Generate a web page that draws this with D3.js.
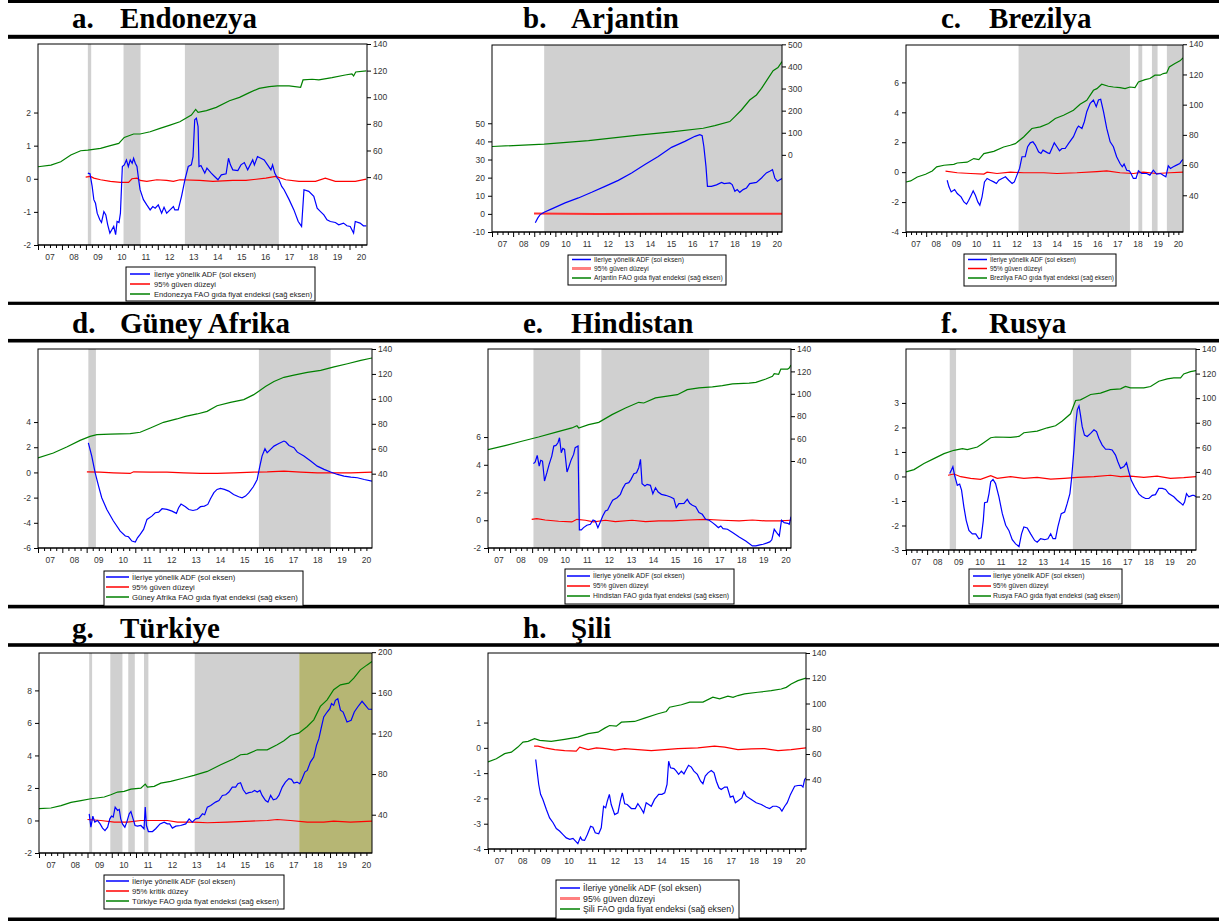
<!DOCTYPE html>
<html>
<head>
<meta charset="utf-8">
<script src="https://cdn.jsdelivr.net/npm/d3@7"></script>
<style>
  body { margin: 0; background: #fff; }
  svg { display: block; }
</style>
</head>
<body>
<div id="chart"></div>
<script>
// ---- data (decimal year, value) ----
const yearLabels = ["07","08","09","10","11","12","13","14","15","16","17","18","19","20"];
const firstYear = 2007;
const lastDate = 2020.73;

// a. Endonezya
const idnShade = [[2009.08,2009.22],[2010.57,2011.28],[2013.13,2017.05]];
const idnAdf = [[2009.08,0.17],[2009.17,0.15],[2009.26,-0.23],[2009.33,-0.63],[2009.40,-0.74],[2009.47,-1.04],[2009.58,-1.24],[2009.65,-1.32],[2009.75,-0.99],[2009.83,-1.09],[2009.91,-1.39],[2010.0,-1.64],[2010.08,-1.54],[2010.16,-1.44],[2010.24,-1.69],[2010.30,-1.29],[2010.38,-1.32],[2010.44,-1.04],[2010.52,0.37],[2010.60,0.42],[2010.69,0.57],[2010.77,0.37],[2010.85,0.57],[2010.93,0.47],[2010.99,0.62],[2011.06,0.47],[2011.13,0.37],[2011.20,-0.03],[2011.26,-0.33],[2011.40,-0.63],[2011.54,-0.79],[2011.68,-0.94],[2011.79,-0.84],[2011.89,-0.89],[2012.02,-0.79],[2012.16,-1.04],[2012.26,-0.86],[2012.37,-1.04],[2012.51,-0.94],[2012.65,-0.84],[2012.71,-0.94],[2012.85,-0.94],[2012.99,-0.53],[2013.13,-0.03],[2013.27,0.37],[2013.40,0.42],[2013.47,0.67],[2013.54,1.78],[2013.61,1.83],[2013.68,1.58],[2013.72,0.37],[2013.80,0.40],[2013.96,0.17],[2014.05,0.32],[2014.23,0.17],[2014.37,0.07],[2014.51,-0.03],[2014.65,0.12],[2014.85,0.15],[2014.95,0.62],[2015.03,0.42],[2015.13,0.27],[2015.34,0.25],[2015.47,0.42],[2015.61,0.49],[2015.75,0.27],[2015.96,0.57],[2016.03,0.42],[2016.16,0.67],[2016.30,0.62],[2016.44,0.57],[2016.58,0.42],[2016.72,0.27],[2016.79,0.42],[2016.88,0.17],[2016.99,0.02],[2017.06,-0.03],[2017.17,-0.23],[2017.27,-0.33],[2017.48,-0.63],[2017.68,-0.94],[2017.86,-1.29],[2018.00,-1.44],[2018.10,-0.33],[2018.30,-0.38],[2018.51,-0.53],[2018.65,-0.89],[2018.79,-0.99],[2018.93,-1.09],[2019.06,-1.24],[2019.20,-1.29],[2019.41,-1.32],[2019.55,-1.39],[2019.75,-1.34],[2019.89,-1.42],[2020.03,-1.44],[2020.17,-1.64],[2020.24,-1.29],[2020.44,-1.34],[2020.58,-1.42],[2020.70,-1.42]];
const idnCrit = [[2008.99,0.05],[2009.19,0.07],[2009.33,0.02],[2009.61,-0.03],[2010.02,-0.08],[2010.44,-0.11],[2010.78,-0.11],[2010.92,0.0],[2011.13,0.02],[2011.26,-0.05],[2011.54,-0.08],[2011.96,-0.03],[2012.37,-0.05],[2012.65,-0.08],[2012.92,-0.03],[2013.75,-0.05],[2014.30,-0.08],[2015.13,-0.05],[2015.68,-0.05],[2016.51,0.02],[2016.92,0.07],[2017.34,-0.03],[2017.89,-0.08],[2018.58,-0.08],[2018.99,0.02],[2019.41,-0.08],[2019.82,-0.08],[2020.24,-0.08],[2020.70,-0.01]];
const idnFao = [[2007.0,47.8],[2007.54,49],[2007.95,51.5],[2008.37,56.6],[2008.78,59.8],[2009.08,60.3],[2009.61,61.6],[2010.02,63.6],[2010.37,65.3],[2010.60,69.8],[2010.99,72.4],[2011.26,72.4],[2011.68,74.1],[2012.09,76.6],[2012.51,79.1],[2012.92,81.6],[2013.40,86.6],[2013.58,90.9],[2013.68,88.7],[2014.03,89.9],[2014.44,92.4],[2014.99,97.4],[2015.41,99.9],[2015.82,103.5],[2016.23,106.7],[2016.65,108],[2016.99,108.5],[2017.48,108.5],[2017.96,107.5],[2018.06,113],[2018.44,113.5],[2018.72,113],[2019.27,114.7],[2019.82,116.7],[2020.10,117.5],[2020.17,116],[2020.26,119],[2020.70,119.8]];

// b. Arjantin
const argShade = [[2009.47,2020.73]];
const argAdf = [[2009.05,-4.95],[2009.17,-2.2],[2009.28,-0.4],[2009.47,0.9],[2009.83,2.75],[2010.46,6.05],[2011.09,8.8],[2011.72,11.9],[2012.35,15.2],[2012.98,18.5],[2013.61,22.6],[2014.24,27.2],[2014.87,31.7],[2015.50,36.7],[2016.13,40.0],[2016.61,42.8],[2016.84,43.7],[2016.95,43.1],[2017.03,37.2],[2017.13,26.2],[2017.20,15.2],[2017.39,15.2],[2017.63,16.0],[2017.87,17.4],[2017.99,16.7],[2018.26,17.1],[2018.37,16.2],[2018.50,12.5],[2018.61,13.4],[2018.73,11.9],[2018.89,13.4],[2019.05,14.3],[2019.20,16.7],[2019.52,17.4],[2019.76,19.8],[2019.99,22.6],[2020.15,23.5],[2020.28,24.4],[2020.39,19.8],[2020.51,18.0],[2020.73,19.5]];
const argCrit = [[2008.99,0.2],[2012.0,0.0],[2016.0,0.1],[2020.73,0.1]];
const argFao = [[2007.0,37.7],[2009.47,48.2],[2011.57,64.8],[2013.93,88.9],[2015.50,104],[2017.0,120.5],[2017.55,132.5],[2018.26,150.6],[2018.50,173],[2018.81,203],[2019.20,248],[2019.52,271],[2019.76,301],[2020.07,346],[2020.31,381],[2020.54,395],[2020.73,422]];

// c. Brezilya
const braShade = [[2012.58,2018.10],[2018.52,2018.71],[2019.19,2019.47],[2019.93,2020.73]];
const braAdf = [[2009.04,-0.54],[2009.13,-0.98],[2009.24,-1.32],[2009.41,-1.16],[2009.54,-1.43],[2009.73,-1.65],[2009.87,-1.99],[2010.0,-2.14],[2010.11,-1.88],[2010.23,-1.54],[2010.33,-1.25],[2010.44,-1.54],[2010.56,-1.99],[2010.66,-2.21],[2010.77,-1.65],[2010.89,-0.65],[2011.02,-0.42],[2011.18,-0.54],[2011.35,-0.65],[2011.48,-0.76],[2011.60,-0.54],[2011.76,-0.42],[2011.93,-0.31],[2012.09,-0.54],[2012.26,-0.76],[2012.37,-0.65],[2012.50,-0.2],[2012.63,0.25],[2012.75,1.03],[2012.91,1.03],[2013.03,1.7],[2013.16,1.96],[2013.29,2.03],[2013.41,1.81],[2013.57,1.36],[2013.69,1.25],[2013.79,1.47],[2014.02,1.29],[2014.12,1.25],[2014.23,1.58],[2014.35,1.96],[2014.48,1.70],[2014.61,1.43],[2014.73,1.58],[2014.89,1.58],[2015.06,1.92],[2015.30,2.37],[2015.47,2.92],[2015.55,3.08],[2015.72,2.92],[2015.84,3.37],[2015.96,4.04],[2016.13,4.60],[2016.29,4.82],[2016.43,4.38],[2016.54,4.82],[2016.65,4.87],[2016.79,4.04],[2016.95,2.92],[2017.12,2.03],[2017.28,1.70],[2017.44,1.03],[2017.61,0.58],[2017.72,0.36],[2017.81,0.54],[2017.94,0.13],[2018.07,0.09],[2018.15,-0.09],[2018.27,-0.42],[2018.40,-0.42],[2018.52,0.09],[2018.68,-0.09],[2018.93,-0.09],[2019.09,-0.2],[2019.26,0.13],[2019.42,-0.13],[2019.62,-0.09],[2019.75,-0.2],[2019.88,-0.31],[2020.0,0.42],[2020.11,0.25],[2020.25,0.36],[2020.41,0.47],[2020.57,0.58],[2020.66,0.76],[2020.73,0.85]];
const braCrit = [[2008.96,0.07],[2009.54,-0.04],[2010.20,-0.09],[2010.86,-0.13],[2011.02,0.0],[2011.51,-0.09],[2012.17,0.0],[2012.83,-0.04],[2013.82,-0.04],[2014.48,-0.09],[2015.47,-0.04],[2016.46,0.04],[2016.95,0.09],[2017.61,-0.04],[2018.27,-0.09],[2018.76,0.0],[2019.42,-0.09],[2020.08,-0.04],[2020.73,0.0]];
const braFao = [[2007.0,48.8],[2007.23,49.5],[2007.56,52.1],[2007.97,53.9],[2008.30,56.1],[2008.52,58.8],[2008.88,59.9],[2009.37,60.5],[2009.54,61.4],[2010.03,61.9],[2010.36,64.3],[2010.61,63.6],[2010.86,67.6],[2011.35,69.1],[2011.84,72.0],[2012.17,73.1],[2012.42,74.2],[2012.83,78.6],[2013.24,84.2],[2013.66,85.3],[2014.07,87.5],[2014.40,90.8],[2014.81,93.0],[2015.30,96.3],[2015.63,100.3],[2015.96,102.9],[2016.29,109.5],[2016.46,110.6],[2016.70,113.5],[2017.03,112.2],[2017.28,111.7],[2017.61,111.3],[2017.86,110.6],[2018.10,111.7],[2018.35,111.3],[2018.52,115],[2018.85,116.6],[2019.09,117.3],[2019.34,119.5],[2019.59,119.5],[2019.75,120.6],[2019.92,121],[2020.05,125],[2020.33,127.2],[2020.58,129],[2020.73,131]];

// d. Güney Afrika
const zafShade = [[2009.07,2009.38],[2016.08,2019.03]];
const zafAdf = [[2009.07,2.35],[2009.21,1.30],[2009.35,-0.03],[2009.49,-1.08],[2009.62,-2.01],[2009.83,-2.94],[2010.10,-3.86],[2010.38,-4.66],[2010.59,-5.05],[2010.72,-5.11],[2010.86,-5.45],[2011.0,-5.53],[2011.09,-5.19],[2011.20,-4.92],[2011.34,-4.52],[2011.48,-3.73],[2011.68,-3.47],[2011.82,-3.20],[2011.96,-3.15],[2012.10,-2.88],[2012.30,-2.94],[2012.51,-3.07],[2012.69,-3.25],[2012.78,-2.80],[2012.88,-2.51],[2013.06,-2.72],[2013.20,-2.94],[2013.37,-3.02],[2013.54,-2.94],[2013.68,-2.72],[2013.84,-2.67],[2013.98,-2.54],[2014.09,-2.09],[2014.23,-1.61],[2014.36,-1.35],[2014.50,-1.27],[2014.66,-1.35],[2014.84,-1.48],[2015.04,-1.75],[2015.25,-1.93],[2015.39,-2.01],[2015.53,-1.88],[2015.67,-1.61],[2015.85,-1.14],[2016.01,-0.56],[2016.12,0.50],[2016.21,1.30],[2016.33,1.88],[2016.42,1.56],[2016.56,1.83],[2016.70,2.09],[2016.90,2.30],[2017.11,2.49],[2017.19,2.41],[2017.32,2.14],[2017.52,1.96],[2017.66,1.61],[2017.93,1.30],[2018.21,0.90],[2018.48,0.50],[2018.76,0.24],[2019.03,0.03],[2019.31,-0.16],[2019.58,-0.29],[2019.86,-0.37],[2020.13,-0.42],[2020.41,-0.56],[2020.73,-0.69]];
const zafCrit = [[2009.01,0.05],[2009.55,0.03],[2010.10,-0.03],[2010.79,-0.08],[2010.93,0.05],[2011.62,0.03],[2012.30,0.03],[2012.99,-0.03],[2013.68,-0.08],[2014.36,-0.08],[2015.05,-0.03],[2015.87,0.03],[2016.42,0.05],[2017.11,0.11],[2017.80,0.03],[2018.48,-0.03],[2019.17,-0.03],[2019.86,-0.03],[2020.73,0.03]];
const zafFao = [[2007.0,52.6],[2007.63,56.6],[2008.18,61.4],[2008.73,66.7],[2009.14,69.9],[2009.42,71.3],[2009.97,71.8],[2010.79,72.1],[2011.20,73.2],[2011.62,76.6],[2012.16,81.2],[2012.71,83.9],[2013.06,86],[2013.54,87.9],[2013.95,90],[2014.36,94.5],[2014.91,97.2],[2015.46,99.4],[2015.87,103.4],[2016.12,106.8],[2016.35,110],[2016.70,114],[2017.11,117.3],[2017.52,119.1],[2018.07,121.3],[2018.62,122.9],[2019.17,125.6],[2019.72,128.2],[2020.27,130.9],[2020.73,132.8]];

// e. Hindistan
const indShade = [[2009.06,2011.18],[2012.14,2017.02],[2020.68,2020.73]];
const indAdf = [[2009.06,4.08],[2009.14,4.2],[2009.23,4.68],[2009.32,3.91],[2009.39,4.32],[2009.47,4.27],[2009.56,2.83],[2009.67,3.43],[2009.77,4.03],[2009.89,4.63],[2009.98,5.35],[2010.08,5.40],[2010.17,5.59],[2010.24,5.95],[2010.32,4.87],[2010.39,5.18],[2010.47,5.11],[2010.58,3.48],[2010.65,3.79],[2010.76,4.32],[2010.88,4.75],[2010.95,5.23],[2011.08,5.35],[2011.14,-0.70],[2011.23,-0.70],[2011.33,-0.53],[2011.48,-0.36],[2011.64,-0.29],[2011.76,0.02],[2011.86,-0.05],[2011.98,-0.53],[2012.09,-0.12],[2012.20,0.31],[2012.32,0.67],[2012.42,0.74],[2012.55,1.15],[2012.65,1.44],[2012.85,1.63],[2013.0,1.87],[2013.11,2.30],[2013.23,2.64],[2013.38,2.71],[2013.48,2.95],[2013.61,3.36],[2013.73,3.43],[2013.83,3.79],[2013.91,4.39],[2013.98,2.64],[2014.11,2.47],[2014.21,2.59],[2014.36,2.52],[2014.47,1.92],[2014.59,2.35],[2014.71,2.04],[2014.86,1.87],[2015.05,1.80],[2015.27,1.68],[2015.42,1.56],[2015.53,0.91],[2015.65,1.20],[2015.88,1.22],[2016.03,1.51],[2016.14,1.22],[2016.26,1.08],[2016.41,0.98],[2016.56,0.55],[2016.71,0.43],[2016.86,0.07],[2017.02,0.0],[2017.17,-0.17],[2017.32,-0.36],[2017.44,-0.53],[2017.55,-0.41],[2017.65,-0.60],[2017.85,-0.65],[2018.08,-0.89],[2018.38,-1.20],[2018.68,-1.49],[2018.98,-1.85],[2019.14,-1.85],[2019.32,-1.77],[2019.47,-1.73],[2019.62,-1.65],[2019.77,-1.56],[2019.86,-1.41],[2019.97,-0.65],[2020.08,-0.89],[2020.20,-1.13],[2020.30,0.0],[2020.42,-0.17],[2020.58,-0.22],[2020.65,-0.29],[2020.73,0.26]];
const indCrit = [[2008.98,0.07],[2009.21,0.12],[2009.59,0.02],[2010.20,-0.07],[2010.80,-0.12],[2011.03,0.07],[2011.41,0.0],[2011.79,-0.12],[2012.32,0.0],[2012.77,-0.10],[2013.53,0.0],[2014.14,-0.10],[2014.74,-0.05],[2015.35,-0.05],[2016.11,0.02],[2016.86,0.07],[2017.62,0.0],[2018.38,-0.05],[2018.98,0.02],[2019.59,-0.05],[2020.20,-0.05],[2020.73,0.0]];
const indFao = [[2007.0,50.1],[2007.77,53.7],[2008.53,57.6],[2009.29,61.4],[2010.05,65.6],[2010.80,69.5],[2011.03,71.5],[2011.11,69.5],[2011.56,72.4],[2012.02,74.5],[2012.62,81.4],[2013.23,87.3],[2013.83,92.4],[2014.06,91.8],[2014.59,96.3],[2015.35,98.6],[2015.58,99.2],[2016.03,103.7],[2016.56,105.2],[2017.17,106.1],[2017.62,107.3],[2018.08,108.8],[2018.83,109.6],[2019.14,110.2],[2019.59,113.2],[2019.89,115.6],[2019.97,118],[2020.17,117.4],[2020.27,122.1],[2020.58,122.1],[2020.65,123],[2020.73,125.7]];

// f. Rusya
const rusShade = [[2009.07,2009.37],[2014.90,2017.66]];
const rusAdf = [[2009.07,0.12],[2009.15,0.26],[2009.22,0.40],[2009.30,0.05],[2009.43,-0.36],[2009.54,-0.31],[2009.63,-0.56],[2009.74,-1.24],[2009.85,-1.79],[2009.98,-2.20],[2010.14,-2.34],[2010.30,-2.34],[2010.45,-2.54],[2010.56,-2.50],[2010.66,-1.79],[2010.72,-1.07],[2010.85,-1.04],[2010.93,-0.70],[2011.01,-0.22],[2011.12,-0.12],[2011.24,-0.29],[2011.40,-0.83],[2011.56,-1.52],[2011.72,-1.99],[2011.87,-2.20],[2012.03,-2.58],[2012.19,-2.75],[2012.35,-2.86],[2012.47,-2.34],[2012.58,-2.06],[2012.74,-2.10],[2012.90,-2.34],[2013.09,-2.61],[2013.21,-2.68],[2013.37,-2.54],[2013.56,-2.58],[2013.72,-2.54],[2013.85,-2.34],[2013.96,-2.54],[2014.08,-2.54],[2014.19,-2.06],[2014.35,-1.52],[2014.51,-1.45],[2014.63,-1.11],[2014.76,-0.70],[2014.84,-0.08],[2014.95,1.08],[2015.03,2.10],[2015.11,2.72],[2015.19,2.88],[2015.26,2.51],[2015.34,2.04],[2015.45,1.69],[2015.58,1.63],[2015.74,1.76],[2015.90,1.90],[2016.02,1.83],[2016.13,1.56],[2016.29,1.28],[2016.45,1.11],[2016.61,1.11],[2016.76,1.08],[2016.92,0.87],[2017.03,0.60],[2017.16,0.33],[2017.32,0.40],[2017.44,0.56],[2017.55,0.19],[2017.66,-0.15],[2017.82,-0.42],[2018.03,-0.72],[2018.18,-0.83],[2018.34,-0.90],[2018.50,-0.90],[2018.66,-0.77],[2018.81,-0.74],[2018.97,-0.49],[2019.13,-0.49],[2019.29,-0.53],[2019.44,-0.70],[2019.68,-0.83],[2019.84,-0.97],[2020.0,-1.08],[2020.11,-1.17],[2020.19,-1.04],[2020.28,-0.70],[2020.39,-0.83],[2020.55,-0.77],[2020.63,-0.77],[2020.73,-0.83]];
const rusCrit = [[2008.99,0.05],[2009.27,0.10],[2009.59,-0.01],[2010.06,-0.08],[2010.53,-0.12],[2011.01,0.03],[2011.32,-0.08],[2011.95,-0.01],[2012.58,-0.08],[2013.21,-0.04],[2013.85,-0.11],[2014.48,-0.08],[2015.11,-0.04],[2015.90,-0.01],[2016.68,0.05],[2017.16,-0.01],[2017.63,0.01],[2018.26,-0.04],[2018.89,0.01],[2019.52,-0.08],[2020.15,-0.05],[2020.73,-0.01]];
const rusFao = [[2007.0,40],[2007.38,41.9],[2007.85,46.8],[2008.32,50.8],[2008.80,54.9],[2009.27,57.6],[2009.67,58.9],[2009.90,58.1],[2010.38,60.3],[2010.61,63],[2011.01,67.8],[2011.24,68.4],[2011.95,68.1],[2012.35,68.9],[2012.58,71.9],[2013.21,73.2],[2013.69,75.9],[2014.08,77.6],[2014.40,81.4],[2014.79,87.3],[2015.03,98.1],[2015.26,98.6],[2015.50,100.8],[2015.74,103.0],[2016.21,104.1],[2016.68,107.0],[2017.16,107.6],[2017.39,109.5],[2017.63,108.4],[2018.26,108.4],[2018.58,109.5],[2018.97,113.8],[2019.37,115.7],[2019.68,116.5],[2020.0,116.5],[2020.15,119.7],[2020.47,121.6],[2020.73,122.4]];

// g. Türkiye
const turShade = [[2009.07,2009.19],[2009.94,2010.44],[2010.68,2010.95],[2011.33,2011.51],[2013.42,2017.73]];
const turBubble = [[2017.73,2020.73]];
const turAdf = [[2009.07,0.41],[2009.14,-0.41],[2009.22,0.27],[2009.30,-0.10],[2009.41,0.0],[2009.52,-0.21],[2009.62,-0.47],[2009.72,-0.62],[2009.83,-0.41],[2009.92,0.10],[2009.99,0.27],[2010.06,0.21],[2010.14,0.82],[2010.24,0.62],[2010.31,0.68],[2010.37,0.10],[2010.44,-0.21],[2010.54,-0.41],[2010.62,-0.10],[2010.72,0.41],[2010.79,0.55],[2010.88,0.10],[2010.96,-0.31],[2011.06,-0.35],[2011.20,-0.31],[2011.33,-0.51],[2011.38,0.82],[2011.43,-0.31],[2011.51,-0.68],[2011.68,-0.68],[2011.81,-0.51],[2011.99,-0.21],[2012.16,-0.10],[2012.29,-0.21],[2012.39,-0.21],[2012.50,-0.47],[2012.64,-0.35],[2012.84,-0.31],[2013.05,-0.21],[2013.19,0.10],[2013.32,-0.10],[2013.46,0.10],[2013.60,0.14],[2013.74,0.41],[2013.83,0.35],[2013.94,0.82],[2014.08,0.92],[2014.28,1.13],[2014.42,1.23],[2014.56,1.54],[2014.70,1.58],[2014.83,1.75],[2014.97,2.05],[2015.11,2.05],[2015.20,2.26],[2015.31,2.32],[2015.42,1.89],[2015.54,1.64],[2015.65,1.71],[2015.79,1.75],[2015.89,1.85],[2016.0,1.75],[2016.11,1.85],[2016.20,1.54],[2016.34,1.23],[2016.44,1.13],[2016.55,1.54],[2016.66,1.27],[2016.79,1.33],[2016.89,1.54],[2017.03,2.05],[2017.16,2.36],[2017.30,2.57],[2017.41,2.53],[2017.51,2.30],[2017.64,2.36],[2017.75,2.26],[2017.85,2.57],[2017.96,2.98],[2018.06,3.08],[2018.19,3.59],[2018.33,3.90],[2018.44,4.62],[2018.54,5.03],[2018.63,5.65],[2018.74,6.37],[2018.88,6.67],[2018.99,6.88],[2019.06,7.19],[2019.15,7.08],[2019.22,7.39],[2019.32,7.49],[2019.43,6.78],[2019.54,6.67],[2019.70,6.06],[2019.87,6.16],[2020.0,6.67],[2020.14,6.98],[2020.32,7.33],[2020.46,7.08],[2020.59,6.84],[2020.73,6.84]];
const turCrit = [[2009.0,0.06],[2009.55,0.0],[2010.10,-0.10],[2010.65,-0.10],[2011.20,0.0],[2011.61,0.0],[2012.29,0.0],[2012.71,-0.10],[2013.39,-0.10],[2013.94,-0.14],[2014.76,-0.10],[2015.72,-0.04],[2016.41,0.0],[2016.82,0.06],[2017.37,0.0],[2018.06,-0.10],[2018.74,-0.10],[2019.15,-0.04],[2019.84,-0.10],[2020.73,-0.04]];
const turFao = [[2007.0,45.9],[2007.49,46.6],[2007.91,48.9],[2008.32,52.1],[2008.73,53.8],[2009.14,55.7],[2009.69,57.4],[2009.96,59.7],[2010.24,62.3],[2010.51,63],[2010.79,65.2],[2011.20,66.2],[2011.38,70.2],[2011.47,67.2],[2011.75,67.9],[2012.02,71.1],[2012.43,72.8],[2012.98,76.1],[2013.39,78.7],[2013.94,82.6],[2014.49,89.2],[2015.04,95.1],[2015.31,99],[2015.59,99.7],[2016.0,103.9],[2016.41,103.9],[2016.82,108.9],[2017.10,112.8],[2017.37,118],[2017.71,120.3],[2018.06,126.9],[2018.33,133.4],[2018.60,146.6],[2018.88,153.1],[2019.15,163],[2019.43,167.9],[2019.77,169.5],[2019.98,174.4],[2020.25,182.6],[2020.53,187.5],[2020.73,190.8]];

// h. Şili
const chlShade = [];
const chlAdf = [[2009.06,-0.46],[2009.12,-0.92],[2009.19,-1.45],[2009.27,-1.84],[2009.37,-2.04],[2009.52,-2.44],[2009.66,-2.77],[2009.81,-2.96],[2009.95,-3.19],[2010.09,-3.29],[2010.24,-3.43],[2010.38,-3.56],[2010.53,-3.62],[2010.67,-3.58],[2010.81,-3.72],[2010.88,-3.79],[2010.99,-3.53],[2011.06,-3.64],[2011.17,-3.66],[2011.29,-3.43],[2011.43,-3.10],[2011.53,-3.14],[2011.63,-3.36],[2011.78,-3.40],[2011.89,-3.16],[2011.99,-2.31],[2012.08,-2.37],[2012.15,-2.11],[2012.24,-1.84],[2012.32,-2.24],[2012.47,-2.64],[2012.61,-2.57],[2012.71,-2.11],[2012.80,-1.78],[2012.90,-2.21],[2013.01,-2.24],[2013.19,-2.40],[2013.36,-2.40],[2013.47,-2.21],[2013.59,-2.37],[2013.72,-2.57],[2013.83,-2.17],[2013.94,-2.24],[2014.05,-2.31],[2014.19,-2.04],[2014.37,-1.84],[2014.51,-1.84],[2014.63,-1.78],[2014.73,-1.45],[2014.80,-0.53],[2014.88,-0.79],[2015.03,-0.82],[2015.13,-0.92],[2015.23,-1.05],[2015.35,-0.92],[2015.46,-1.03],[2015.56,-0.86],[2015.66,-0.69],[2015.78,-0.76],[2015.89,-0.92],[2016.04,-1.05],[2016.18,-1.32],[2016.28,-1.42],[2016.38,-1.12],[2016.50,-0.99],[2016.64,-0.90],[2016.76,-0.99],[2016.86,-1.32],[2016.97,-1.58],[2017.07,-1.65],[2017.22,-1.55],[2017.33,-1.55],[2017.46,-1.95],[2017.58,-1.91],[2017.68,-2.17],[2017.82,-2.08],[2017.96,-1.98],[2018.05,-1.74],[2018.15,-1.91],[2018.37,-2.04],[2018.58,-2.17],[2018.80,-2.24],[2019.01,-2.35],[2019.16,-2.40],[2019.30,-2.31],[2019.45,-2.31],[2019.59,-2.37],[2019.69,-2.50],[2019.81,-2.31],[2019.92,-2.17],[2020.06,-1.84],[2020.24,-1.52],[2020.38,-1.49],[2020.53,-1.48],[2020.60,-1.55],[2020.67,-1.25],[2020.73,-1.19]];
const chlCrit = [[2008.99,0.07],[2009.16,0.07],[2009.45,0.0],[2009.88,-0.07],[2010.31,-0.11],[2010.81,-0.13],[2010.96,0.03],[2011.32,-0.07],[2011.68,0.0],[2012.04,-0.03],[2012.47,-0.09],[2012.90,-0.03],[2013.47,-0.07],[2014.05,-0.11],[2014.63,-0.07],[2015.20,-0.03],[2016.06,0.0],[2016.78,0.07],[2017.22,0.03],[2017.79,-0.07],[2018.37,-0.04],[2018.94,-0.03],[2019.52,-0.11],[2020.09,-0.07],[2020.73,0.0]];
const chlFao = [[2007.0,53.7],[2007.36,56.3],[2007.72,60.3],[2008.01,61.5],[2008.29,65.5],[2008.51,69.4],[2008.73,70],[2009.01,72.1],[2009.23,70.8],[2009.73,70],[2010.31,71.6],[2010.88,73.4],[2011.32,76.1],[2011.75,77.3],[2012.04,80.5],[2012.25,82.6],[2012.54,82.1],[2012.76,85.2],[2013.33,85.8],[2013.76,88.4],[2014.34,91.9],[2014.70,93.7],[2014.84,97.1],[2015.35,99],[2015.71,101.1],[2016.28,101.1],[2016.71,105],[2017.0,103.7],[2017.36,105.8],[2017.58,104.9],[2017.79,106.3],[2018.08,107.6],[2018.65,108.9],[2019.23,110.2],[2019.66,111.5],[2019.88,112.8],[2020.09,115.5],[2020.38,118.1],[2020.73,120.2]];

const adfLabel = "İleriye yönelik ADF (sol eksen)";
const critLabel = "95% güven düzeyi";
const critLabelTr = "95% kritik düzey";

// ---- layout ----
const W = 1219, H = 921;
const colors = { adf: "#0000ff", crit: "#ff0000", fao: "#008000", shade: "#d0d0d0", bubble: "#b6b674", text: "#222" };
const rules = [[1.5, 3], [36.8, 4], [303.3, 3.2], [340.7, 3.6], [606.6, 3.6], [645, 3.6], [919.3, 3.6]];

const panels = [
  { letter: "a.", name: "Endonezya", tx: 72, ty: 28, shade: idnShade, adf: idnAdf, crit: idnCrit, fao: idnFao,
    box: [38, 367, 44, 245], left: [-2, 4.07], right: [-11, 140], lt: [-2,-1,0,1,2], rt: [40,60,80,100,120,140],
    leg: { box: [126, 315, 267, 301], rows: [274, 284, 294], l: [130, 150], t: 154, fs: 7.6 },
    labels: [adfLabel, critLabel, "Endonezya FAO gıda fiyat endeksi (sağ eksen)"] },
  { letter: "b.", name: "Arjantin", tx: 523, ty: 28, shade: argShade, adf: argAdf, crit: argCrit, fao: argFao,
    box: [492, 782, 45, 232], left: [-10, 93.2], right: [-349, 497], lt: [-10,0,10,20,30,40,50], rt: [0,100,200,300,400,500],
    critW: 2, critC: "#ff3030",
    leg: { box: [568, 726, 255, 285], rows: [259.5, 268.5, 278], l: [572, 591], t: 594, fs: 6.7 },
    labels: [adfLabel, critLabel, "Arjantin FAO gıda fiyat endeksi (sağ eksen)"] },
  { letter: "c.", name: "Brezilya", tx: 941, ty: 28, shade: braShade, adf: braAdf, crit: braCrit, fao: braFao,
    box: [906, 1183, 45, 232], left: [-4, 8.5], right: [15.7, 139.5], lt: [-4,-2,0,2,4,6], rt: [40,60,80,100,120,140],
    leg: { box: [964, 1116, 254, 286], rows: [259.5, 268.5, 278], l: [968, 987], t: 990, fs: 6.4 },
    labels: [adfLabel, critLabel, "Brezilya FAO gıda fiyat endeksi (sağ eksen)"] },
  { letter: "d.", name: "Güney Afrika", tx: 72, ty: 333, shade: zafShade, adf: zafAdf, crit: zafCrit, fao: zafFao,
    box: [38, 372, 349, 548], left: [-6, 9.8], right: [-19.6, 140], lt: [-6,-4,-2,0,2,4], rt: [40,60,80,100,120,140],
    leg: { box: [104, 303, 571, 606], rows: [577, 587, 597], l: [106, 129], t: 132, fs: 7.7 },
    labels: [adfLabel, critLabel, "Güney Afrika FAO gıda fiyat endeksi (sağ eksen)"] },
  { letter: "e.", name: "Hindistan", tx: 523, ty: 333, shade: indShade, adf: indAdf, crit: indCrit, fao: indFao,
    box: [488, 791, 349, 548], left: [-2, 12.35], right: [-37.7, 140], lt: [-2,0,2,4,6], rt: [40,60,80,100,120,140],
    leg: { box: [565, 734, 569, 604], rows: [576, 586, 596], l: [567, 590], t: 593, fs: 6.8 },
    labels: [adfLabel, critLabel, "Hindistan FAO gıda fiyat endeksi (sağ eksen)"] },
  { letter: "f.", name: "Rusya", tx: 941, ty: 333, shade: rusShade, adf: rusAdf, crit: rusCrit, fao: rusFao,
    box: [906, 1196, 349, 550], left: [-3, 5.2], right: [-23.5, 140], lt: [-3,-2,-1,0,1,2,3], rt: [20,40,60,80,100,120,140],
    leg: { box: [969, 1122, 569, 604], rows: [576, 586, 596], l: [973, 991], t: 993, fs: 6.8 },
    labels: [adfLabel, critLabel, "Rusya FAO gıda fiyat endeksi (sağ eksen)"] },
  { letter: "g.", name: "Türkiye", tx: 72, ty: 638, shade: turShade, bubble: turBubble, adf: turAdf, crit: turCrit, fao: turFao,
    box: [39, 372, 653, 853], left: [-2, 10.3], right: [2.3, 199.2], lt: [-2,0,2,4,6,8], rt: [40,80,120,160,200],
    leg: { box: [104, 284, 875, 909], rows: [881, 891, 901], l: [106, 129], t: 132, fs: 7.7 },
    labels: [adfLabel, critLabelTr, "Türkiye FAO gıda fiyat endeksi (sağ eksen)"] },
  { letter: "h.", name: "Şili", tx: 523, ty: 638, shade: chlShade, adf: chlAdf, crit: chlCrit, fao: chlFao,
    box: [488, 806, 653, 849], left: [-4, 3.75], right: [-15.2, 140], lt: [-4,-3,-2,-1,0,1], rt: [40,60,80,100,120,140],
    legCritC: "#ff8080", legCritW: 3,
    leg: { box: [556, 739, 880, 919], rows: [888, 898.5, 909], l: [560, 580], t: 583, fs: 8.8 },
    labels: [adfLabel, critLabel, "Şili FAO gıda fiyat endeksi (sağ eksen)"] }
];
panels[1].legCritC = "#ff8080"; panels[1].legCritW = 3;

const svg = d3.select("#chart").append("svg")
  .attr("width", W).attr("height", H).attr("viewBox", [0, 0, W, H])
  .style("font-family", "Arial, 'Liberation Sans', sans-serif");

svg.append("rect").attr("width", W).attr("height", H).attr("fill", "#fff");

svg.selectAll("rect.rule").data(rules).join("rect")
  .attr("class", "rule")
  .attr("x", 8).attr("width", W - 8)
  .attr("y", d => d[0] - d[1] / 2).attr("height", d => d[1])
  .attr("fill", "#000");

panels.forEach((p, i) => drawPanel(p, i));

function drawPanel(p, i) {
  const [x0, x1, y0, y1] = p.box;
  const x = d3.scaleLinear().domain([firstYear, lastDate]).range([x0, x1]);
  const yl = d3.scaleLinear().domain(p.left).range([y1, y0]);
  const yr = d3.scaleLinear().domain(p.right).range([y1, y0]);
  const g = svg.append("g");

  // title
  const title = g.append("text").attr("y", p.ty)
    .style("font-family", "'Liberation Serif', 'Times New Roman', serif")
    .style("font-weight", "bold").style("font-size", "29px").attr("fill", "#000");
  title.append("tspan").attr("x", p.tx).text(p.letter);
  title.append("tspan").attr("x", p.tx + 48).text(p.name);

  const clipId = "clip" + i;
  g.append("clipPath").attr("id", clipId).append("rect")
    .attr("x", x0).attr("y", y0).attr("width", x1 - x0).attr("height", y1 - y0);
  const plot = g.append("g").attr("clip-path", `url(#${clipId})`);

  plot.selectAll("rect.shade").data(p.shade).join("rect")
    .attr("class", "shade")
    .attr("x", d => x(d[0])).attr("width", d => x(d[1]) - x(d[0]))
    .attr("y", y0).attr("height", y1 - y0).attr("fill", colors.shade);
  if (p.bubble) {
    plot.selectAll("rect.bubble").data(p.bubble).join("rect")
      .attr("class", "bubble")
      .attr("x", d => x(d[0])).attr("width", d => x(d[1]) - x(d[0]))
      .attr("y", y0).attr("height", y1 - y0).attr("fill", colors.bubble);
  }

  const lineL = d3.line().x(d => x(d[0])).y(d => yl(d[1]));
  const lineR = d3.line().x(d => x(d[0])).y(d => yr(d[1]));

  plot.append("path").datum(p.fao).attr("d", lineR)
    .attr("fill", "none").attr("stroke", colors.fao).attr("stroke-width", 1.2);
  plot.append("path").datum(p.crit).attr("d", lineL)
    .attr("fill", "none").attr("stroke", p.critC || colors.crit).attr("stroke-width", p.critW || 1.2);
  plot.append("path").datum(p.adf).attr("d", lineL)
    .attr("fill", "none").attr("stroke", colors.adf).attr("stroke-width", 1.2);

  // frame
  g.append("rect").attr("x", x0).attr("y", y0).attr("width", x1 - x0).attr("height", y1 - y0)
    .attr("fill", "none").attr("stroke", "#000").attr("stroke-width", 1);

  // left axis
  const la = g.append("g").attr("transform", `translate(${x0},0)`)
    .call(d3.axisLeft(yl).tickValues(p.lt).tickSize(4).tickPadding(3).tickFormat(d => String(d)));
  // right axis
  const ra = g.append("g").attr("transform", `translate(${x1},0)`)
    .call(d3.axisRight(yr).tickValues(p.rt).tickSize(4).tickPadding(2).tickFormat(d => String(d)));
  // bottom axis: quarter ticks + year ticks
  const quarters = d3.range(firstYear, lastDate, 0.25).filter(v => v % 1 !== 0);
  const yearsT = d3.range(firstYear, 2021);
  const qa = g.append("g").attr("transform", `translate(0,${y1})`)
    .call(d3.axisBottom(x).tickValues(quarters).tickSize(3).tickFormat(""));
  const ya = g.append("g").attr("transform", `translate(0,${y1})`)
    .call(d3.axisBottom(x).tickValues(yearsT).tickSize(5).tickFormat(""));
  [la, ra, qa, ya].forEach(a => {
    a.select(".domain").remove();
    a.selectAll(".tick line").attr("stroke", "#000");
    a.selectAll(".tick text").attr("fill", "#333").style("font-size", "8.5px")
      .style("font-family", "Arial, 'Liberation Sans', sans-serif");
  });
  g.append("line").attr("x1", x0).attr("x2", x1).attr("y1", y1).attr("y2", y1).attr("stroke", "#000");

  g.selectAll("text.year").data(yearLabels).join("text")
    .attr("class", "year")
    .attr("x", (d, k) => x(firstYear + k + 0.5))
    .attr("y", y1 + 15)
    .attr("text-anchor", "middle")
    .style("font-size", "8.5px").attr("fill", "#333")
    .text(d => d);

  // legend
  const L = p.leg;
  const lg = g.append("g");
  lg.append("rect").attr("x", L.box[0]).attr("y", L.box[2])
    .attr("width", L.box[1] - L.box[0]).attr("height", L.box[3] - L.box[2])
    .attr("fill", "#fff").attr("stroke", "#000").attr("stroke-width", 1);
  const legColors = [colors.adf, p.legCritC || colors.crit, colors.fao];
  const legWidths = [1.5, p.legCritW || 1.5, 1.5];
  lg.selectAll("line.key").data(p.labels).join("line")
    .attr("class", "key")
    .attr("x1", L.l[0]).attr("x2", L.l[1])
    .attr("y1", (d, k) => L.rows[k]).attr("y2", (d, k) => L.rows[k])
    .attr("stroke", (d, k) => legColors[k]).attr("stroke-width", (d, k) => legWidths[k]);
  lg.selectAll("text.key").data(p.labels).join("text")
    .attr("class", "key")
    .attr("x", L.t).attr("y", (d, k) => L.rows[k])
    .attr("dy", "0.35em")
    .style("font-size", L.fs + "px").attr("fill", colors.text)
    .text(d => d);
}
</script>
</body>
</html>
